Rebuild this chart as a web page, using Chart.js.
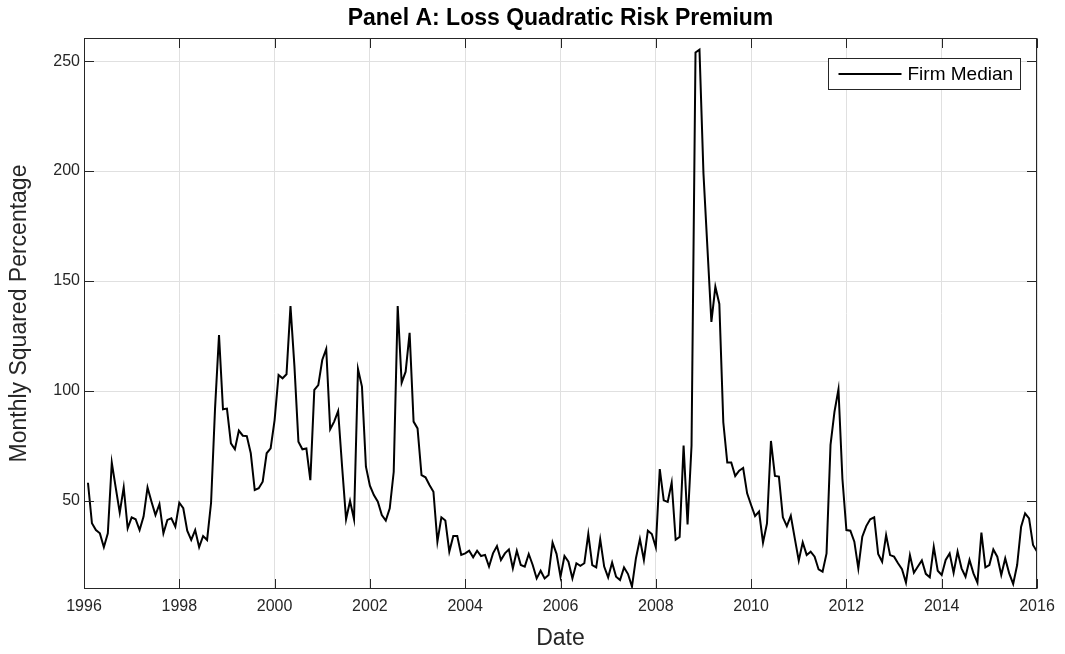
<!DOCTYPE html>
<html>
<head>
<meta charset="utf-8">
<title>Loss Quadratic Risk Premium</title>
<script src="https://cdn.jsdelivr.net/npm/chart.js@4.4.1/dist/chart.umd.min.js"></script>
<style>
  html, body { margin: 0; padding: 0; background: #ffffff; }
  #wrap { width: 1065px; height: 654px; position: relative; }
</style>
</head>
<body>
<div id="wrap"><canvas id="chart"></canvas></div>
<script>
// ---- data -------------------------------------------------------------
const startYear = 1996;                       // first observation is end of Jan 1996
const yearTicks = [1996, 1998, 2000, 2002, 2004, 2006, 2008, 2010, 2012, 2014, 2016];
const valueTicks = [50, 100, 150, 200, 250];
const seriesLabel = 'Firm Median';
const titleText = 'Panel A: Loss Quadratic Risk Premium';
const xTitle = 'Date';
const yTitle = 'Monthly Squared Percentage';

// monthly firm median, in blocks of four years
const median1996to1999 = [
  58.3, 39.9, 36.8, 35.3, 29.0, 35.3, 67.4, 56.0, 44.7, 56.2, 37.6, 42.6,
  41.7, 36.8, 42.9, 56.2, 49.7, 43.6, 48.6, 35.3, 41.4, 42.1, 38.3, 49.2,
  46.7, 36.5, 32.3, 36.8, 29.0, 34.1, 32.3, 49.2, 92.0, 125.5, 91.7, 92.0,
  76.2, 73.5, 82.0, 79.7, 79.5, 71.7, 55.0, 55.8, 58.8, 71.7, 73.9, 86.8
];
const median2000to2003 = [
  107.3, 105.8, 107.6, 138.6, 111.1, 77.0, 73.5, 73.9, 59.5, 100.5, 102.7, 114.1,
  119.1, 82.6, 86.1, 90.9, 65.6, 41.7, 50.0, 41.7, 110.0, 102.0, 65.6, 57.0,
  52.7, 49.7, 43.6, 41.1, 46.7, 63.3, 138.6, 103.8, 108.8, 126.5, 86.1, 83.0,
  61.8, 60.8, 57.3, 54.2, 31.5, 42.6, 41.1, 27.0, 34.1, 34.1, 25.5, 26.2
];
const median2004to2007 = [
  27.4, 24.4, 27.4, 25.0, 25.5, 20.2, 26.2, 29.5, 23.2, 26.2, 28.0, 19.4,
  27.4, 20.9, 20.2, 25.9, 20.9, 14.8, 18.3, 14.8, 16.4, 31.1, 26.0, 15.6,
  25.0, 22.4, 14.8, 21.7, 20.5, 21.7, 35.0, 20.9, 19.8, 32.6, 20.2, 15.3,
  22.0, 15.6, 14.1, 19.8, 16.8, 11.1, 24.0, 32.7, 23.2, 36.5, 35.0, 29.0
];
const median2008to2011 = [
  64.5, 50.3, 49.6, 58.4, 32.4, 33.7, 75.2, 39.4, 75.2, 253.9, 255.2, 199.0,
  165.0, 131.4, 147.4, 139.6, 85.8, 67.5, 67.5, 61.4, 63.8, 65.0, 53.5, 48.2,
  43.2, 45.2, 31.1, 39.8, 77.3, 61.4, 61.1, 42.6, 38.6, 43.3, 33.0, 22.9,
  31.2, 25.5, 27.0, 24.7, 18.9, 17.9, 26.2, 75.5, 90.6, 100.8, 60.0, 36.8
];
const median2012to2015 = [
  36.5, 31.5, 19.4, 33.8, 38.6, 41.7, 42.6, 25.9, 22.4, 34.5, 25.4, 24.7,
  21.7, 19.0, 12.9, 25.4, 17.4, 20.2, 23.0, 16.9, 15.3, 29.2, 18.3, 16.4,
  23.2, 26.2, 17.4, 27.0, 19.4, 15.6, 23.2, 17.1, 12.9, 35.6, 19.8, 20.9,
  28.0, 24.7, 16.4, 23.9, 17.1, 12.3, 20.9, 38.3, 44.4, 42.1, 30.0, 27.0
];

const medians = [].concat(median1996to1999, median2000to2003, median2004to2007,
                          median2008to2011, median2012to2015);
// month-end dates expressed as fractional years
const points = medians.map((v, i) => ({ x: startYear + (i + 1) / 12, y: v }));

// ---- style ------------------------------------------------------------
const FONT = "'Liberation Sans', Arial, Helvetica, sans-serif";
const AXIS_COLOR = '#262626';
const GRID_COLOR = '#e0e0e0';
const TICK_LEN = 9.5;

Chart.defaults.font.family = FONT;
Chart.defaults.color = AXIS_COLOR;

// axes box, inward tick marks on all four sides and the boxed legend
const boxedAxes = {
  id: 'boxedAxes',
  afterDatasetsDraw(chart) {
    const { ctx, chartArea: a, scales: { x, y } } = chart;
    const L = Math.round(a.left) + 0.5, R = Math.round(a.right) - 0.5;
    const T = Math.round(a.top) + 0.5, B = Math.round(a.bottom) - 0.5;
    ctx.save();
    ctx.strokeStyle = AXIS_COLOR;
    ctx.lineWidth = 1;
    ctx.beginPath();
    x.ticks.forEach(t => {
      const px = Math.round(x.getPixelForValue(t.value)) + 0.5;
      ctx.moveTo(px, B); ctx.lineTo(px, B - TICK_LEN);
      ctx.moveTo(px, T); ctx.lineTo(px, T + TICK_LEN);
    });
    y.ticks.forEach(t => {
      const py = Math.round(y.getPixelForValue(t.value)) + 0.5;
      ctx.moveTo(L, py); ctx.lineTo(L + TICK_LEN, py);
      ctx.moveTo(R, py); ctx.lineTo(R - TICK_LEN, py);
    });
    ctx.stroke();
    ctx.strokeRect(L, T, R - L, B - T);

    // legend
    const ds = chart.data.datasets[0];
    const bw = 192, bh = 31;
    const bx = Math.round(a.right - 209) + 0.5, by = Math.round(a.top + 20) + 0.5;
    ctx.fillStyle = '#ffffff';
    ctx.fillRect(bx, by, bw, bh);
    ctx.strokeStyle = AXIS_COLOR;
    ctx.lineWidth = 1;
    ctx.strokeRect(bx, by, bw, bh);
    const cy = by + bh / 2;
    ctx.strokeStyle = ds.borderColor;
    ctx.lineWidth = ds.borderWidth;
    ctx.beginPath();
    ctx.moveTo(bx + 10, cy); ctx.lineTo(bx + 73, cy);
    ctx.stroke();
    ctx.fillStyle = '#000000';
    ctx.font = '19px ' + FONT;
    ctx.textAlign = 'left';
    ctx.textBaseline = 'middle';
    ctx.fillText(ds.label, bx + 79, cy + 1);
    ctx.restore();
  }
};

new Chart(document.getElementById('chart'), {
  type: 'line',
  data: {
    datasets: [{
      label: seriesLabel,
      data: points,
      borderColor: '#000000',
      borderWidth: 2,
      pointRadius: 0,
      tension: 0,
      fill: false
    }]
  },
  options: {
    responsive: true,
    maintainAspectRatio: false,
    animation: false,
    devicePixelRatio: 1,
    layout: { padding: { top: 0, right: 28, bottom: 0, left: 0 } },
    plugins: {
      legend: { display: false },
      tooltip: { enabled: false },
      title: {
        display: true,
        fullSize: false,
        text: titleText,
        color: '#000000',
        font: { size: 23, weight: 'bold', lineHeight: 1.2 },
        padding: { top: 4.5, bottom: 5.9 }
      }
    },
    scales: {
      x: {
        type: 'linear',
        min: 1996,
        max: 2016,
        afterBuildTicks: s => { s.ticks = yearTicks.map(v => ({ value: v })); },
        afterFit: s => { s.height = 65; },
        grid: { color: GRID_COLOR, drawTicks: false, lineWidth: 1 },
        border: { display: false },
        ticks: {
          font: { size: 16 },
          color: AXIS_COLOR,
          padding: 8,
          maxRotation: 0,
          callback: v => String(v)
        },
        title: {
          display: true,
          text: xTitle,
          color: AXIS_COLOR,
          font: { size: 23 },
          padding: { top: 0, bottom: 1.2 }
        }
      },
      y: {
        type: 'linear',
        min: 10,
        max: 260.5,
        afterBuildTicks: s => { s.ticks = valueTicks.map(v => ({ value: v })); },
        afterFit: s => { s.width = 84; },
        grid: { color: GRID_COLOR, drawTicks: false, lineWidth: 1 },
        border: { display: false },
        ticks: {
          font: { size: 16 },
          color: AXIS_COLOR,
          padding: 4,
          callback: v => String(v)
        },
        title: {
          display: true,
          text: yTitle,
          color: AXIS_COLOR,
          font: { size: 23 },
          padding: { top: 6, bottom: 0 }
        }
      }
    }
  },
  plugins: [boxedAxes]
});
</script>
</body>
</html>
